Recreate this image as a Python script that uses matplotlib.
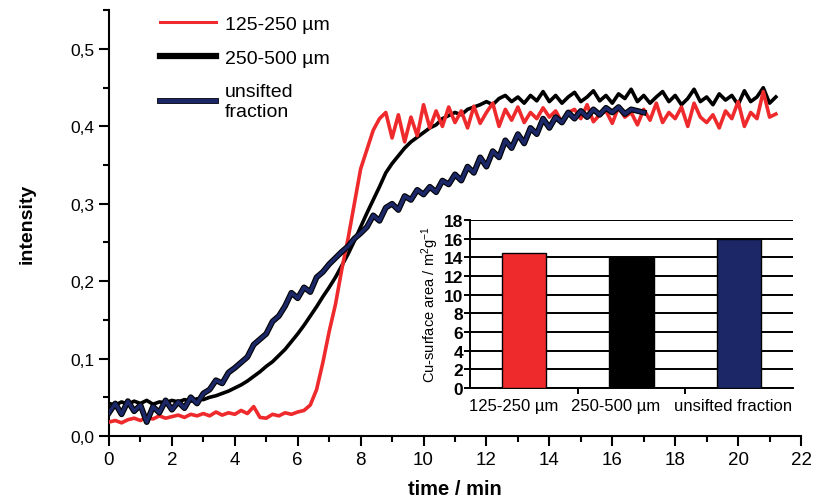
import numpy as np
import matplotlib
matplotlib.use("Agg")
import matplotlib.pyplot as plt
import matplotlib.patheffects as pe
import matplotlib.transforms as mtransforms
from matplotlib.ticker import MultipleLocator, FuncFormatter

# ---------------- data ----------------
t_step = 0.2  # min, sampling interval of the read-off curves

red_125_250 = [
    0.018, 0.020, 0.017, 0.021, 0.023, 0.020, 0.024, 0.022, 0.026, 0.023,
    0.025, 0.027, 0.024, 0.028, 0.026, 0.029, 0.026, 0.031, 0.027, 0.030,
    0.028, 0.033, 0.029, 0.038, 0.024, 0.023, 0.028, 0.026, 0.030, 0.028,
    0.031, 0.033, 0.040, 0.060, 0.095, 0.135, 0.170, 0.215, 0.255, 0.300,
    0.345, 0.370, 0.395, 0.410, 0.418, 0.385, 0.415, 0.380, 0.412, 0.388,
    0.428, 0.398, 0.420, 0.400, 0.425, 0.405, 0.420, 0.398, 0.426, 0.404,
    0.418, 0.430, 0.400, 0.422, 0.408, 0.425, 0.405, 0.418, 0.410, 0.424,
    0.412, 0.420, 0.405, 0.418, 0.422, 0.410, 0.428, 0.406, 0.415, 0.420,
    0.404, 0.425, 0.412, 0.418, 0.402, 0.422, 0.408, 0.430, 0.405, 0.418,
    0.410, 0.425, 0.400, 0.430, 0.412, 0.405, 0.415, 0.398, 0.420, 0.410,
    0.432, 0.400, 0.418, 0.410, 0.445, 0.412, 0.416,
]

black_250_500 = [
    0.042, 0.040, 0.044, 0.041, 0.045, 0.042, 0.046, 0.041, 0.044, 0.043,
    0.046, 0.044, 0.047, 0.045, 0.048, 0.047, 0.050, 0.052, 0.055, 0.058,
    0.062, 0.066, 0.071, 0.077, 0.083, 0.090, 0.096, 0.104, 0.112, 0.122,
    0.132, 0.143, 0.155, 0.167, 0.180, 0.192, 0.205, 0.220, 0.235, 0.252,
    0.270, 0.288, 0.305, 0.322, 0.340, 0.352, 0.362, 0.372, 0.380, 0.386,
    0.392, 0.398, 0.402, 0.410, 0.414, 0.418, 0.415, 0.422, 0.425, 0.428,
    0.432, 0.428, 0.436, 0.440, 0.432, 0.438, 0.430, 0.440, 0.433, 0.445,
    0.432, 0.440, 0.430, 0.438, 0.444, 0.432, 0.438, 0.446, 0.433, 0.440,
    0.430, 0.442, 0.436, 0.448, 0.432, 0.440, 0.430, 0.438, 0.445, 0.432,
    0.440, 0.428, 0.436, 0.448, 0.432, 0.438, 0.428, 0.442, 0.434, 0.440,
    0.428, 0.446, 0.432, 0.438, 0.450, 0.430, 0.438,
]

blue_unsifted = [
    0.030, 0.042, 0.028, 0.045, 0.032, 0.040, 0.018, 0.038, 0.030, 0.046,
    0.034, 0.044, 0.036, 0.050, 0.042, 0.055, 0.060, 0.072, 0.068, 0.082,
    0.088, 0.095, 0.102, 0.118, 0.125, 0.132, 0.148, 0.155, 0.168, 0.185,
    0.178, 0.192, 0.186, 0.205, 0.212, 0.222, 0.230, 0.238, 0.245, 0.255,
    0.262, 0.270, 0.285, 0.278, 0.295, 0.300, 0.292, 0.310, 0.305, 0.318,
    0.312, 0.322, 0.315, 0.330, 0.325, 0.338, 0.330, 0.348, 0.340, 0.360,
    0.348, 0.368, 0.360, 0.382, 0.372, 0.390, 0.378, 0.398, 0.390, 0.410,
    0.398, 0.412, 0.405, 0.418, 0.410, 0.420, 0.412, 0.422, 0.415, 0.424,
    0.418, 0.425, 0.416, 0.422, 0.420, 0.418,
]

series_labels = ["125-250 µm", "250-500 µm", "unsifted\nfraction"]

bar_categories = ["125-250 µm", "250-500 µm", "unsifted fraction"]
bar_values = [14.5, 14.0, 16.0]

# ---------------- style ----------------
RED = "#ef2a2c"
BLACK = "#000000"
NAVY = "#1b2766"
SANS = ["Liberation Sans", "DejaVu Sans"]
plt.rcParams["font.family"] = SANS
plt.rcParams["mathtext.fontset"] = "custom"
plt.rcParams["mathtext.rm"] = "Liberation Sans"
plt.rcParams["mathtext.it"] = "Liberation Sans"
plt.rcParams["mathtext.default"] = "rm"

fig = plt.figure(figsize=(8.37, 5.02), dpi=100)
ax = fig.add_axes([0.1302, 0.1295, 0.8268, 0.848])

def times(vals):
    return np.arange(len(vals)) * t_step

ax.plot(times(red_125_250), red_125_250, color=RED, lw=2.6, label=series_labels[0], zorder=3)
ax.plot(times(black_250_500), black_250_500, color=BLACK, lw=2.6, label=series_labels[1], zorder=2)
ax.plot(times(blue_unsifted), blue_unsifted, color=NAVY, lw=2.6, label=series_labels[2], zorder=4,
        path_effects=[pe.Stroke(linewidth=4.2, foreground="black"), pe.Normal()])

ax.set_xlim(0, 22)
ax.set_ylim(0, 0.55)
ax.spines["top"].set_visible(False)
ax.spines["right"].set_visible(False)
ax.spines["left"].set_linewidth(1.5)
ax.spines["bottom"].set_linewidth(1.5)
ax.xaxis.set_major_locator(MultipleLocator(2))
ax.xaxis.set_minor_locator(MultipleLocator(1))
ax.yaxis.set_major_locator(MultipleLocator(0.1))
ax.yaxis.set_minor_locator(MultipleLocator(0.05))
ax.yaxis.set_major_formatter(FuncFormatter(lambda v, p: f"{v:.1f}".replace(".", ",")))
ax.tick_params(which="major", length=7, width=1.5, direction="out")
ax.tick_params(which="minor", length=4, width=1.5, direction="out")
for lab in ax.get_xticklabels():
    lab.set_fontsize(13.5)
for lab in ax.get_yticklabels():
    lab.set_fontsize(12.5)
ax.set_xlabel("time / min", fontsize=14.5, fontweight="bold", labelpad=8)
ax.set_ylabel("intensity", fontsize=14, fontweight="bold", labelpad=25)

leg = ax.legend(loc="upper left", bbox_to_anchor=(0.048, 1.03), frameon=False, fontsize=14,
                handlelength=2.9, handletextpad=0.45, labelspacing=0.85)
hl = leg.get_lines()
hl[0].set_linewidth(2.2)
hl[1].set_linewidth(4.5)
hl[2].set_linewidth(3.2)

# ---------------- inset bar chart ----------------
ax2 = fig.add_axes([0.5615, 0.225, 0.3859, 0.335])
xpos = np.arange(len(bar_categories))
ax2.bar(xpos, bar_values, width=0.41, color=[RED, BLACK, NAVY], edgecolor="black", lw=1.0, zorder=3)
ax2.set_xlim(-0.5, len(bar_categories) - 0.5)
ax2.set_ylim(0, 18)
ax2.yaxis.set_major_locator(MultipleLocator(2))
ax2.set_axisbelow(True)
ax2.yaxis.grid(True, color="black", lw=1.4)
ax2.spines["top"].set_visible(False)
ax2.spines["right"].set_visible(False)
ax2.spines["left"].set_linewidth(1.4)
ax2.spines["bottom"].set_linewidth(1.4)
ax2.set_xticks(xpos)
ax2.set_xticklabels(bar_categories, fontsize=12)
ax2.set_xticks(xpos[:-1] + 0.5, minor=True)
ax2.tick_params(axis="x", which="major", length=0, pad=7)
ax2.tick_params(axis="x", which="minor", length=4, width=1.4)
ax2.tick_params(axis="y", length=4, width=1.4, pad=1)
# labels in the reference sit slightly left of the bar centres
shifts = [-10, -16, -6]
for lab, dx in zip(ax2.get_xticklabels(), shifts):
    lab.set_transform(lab.get_transform() + mtransforms.ScaledTranslation(dx / 100, 0, fig.dpi_scale_trans))
for lab in ax2.get_yticklabels():
    lab.set_fontweight("bold")
    lab.set_fontsize(12.5)
ax2.set_ylabel("Cu-surface area / m$^2$g$^{-1}$", fontsize=10.5, labelpad=2)

fig.savefig("out.png", dpi=100)
